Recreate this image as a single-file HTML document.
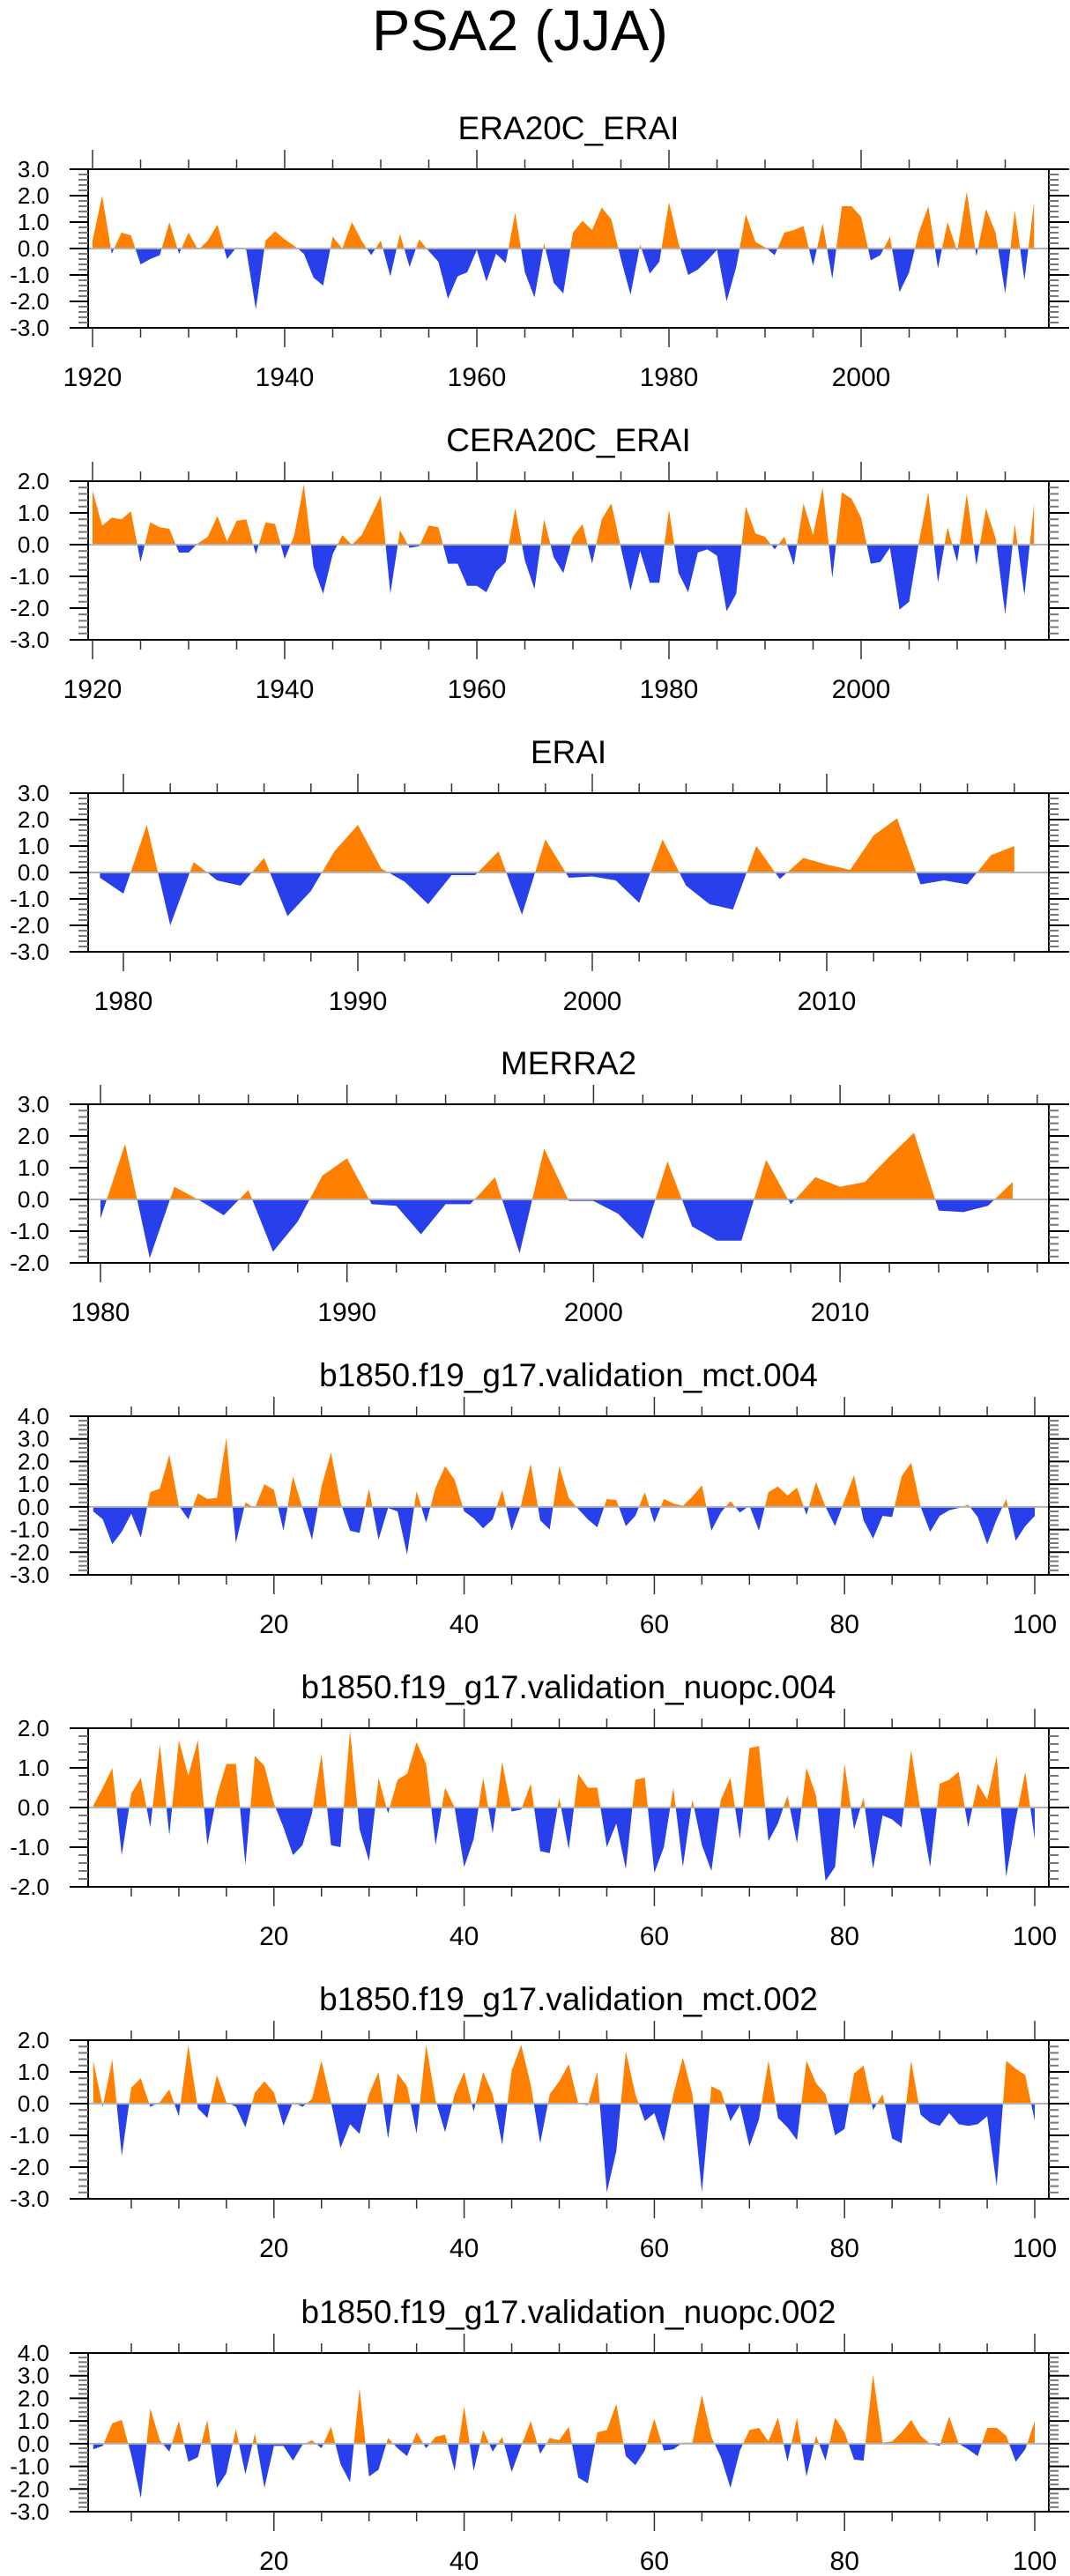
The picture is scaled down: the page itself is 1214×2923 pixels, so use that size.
<!DOCTYPE html>
<html><head><meta charset="utf-8"><style>
html,body{margin:0;padding:0;background:#fff}
svg{display:block}
text{font-family:"Liberation Sans",sans-serif;fill:#000}
</style></head><body>
<svg id="fig" width="1214" height="2923" viewBox="0 0 1214 2923" xmlns="http://www.w3.org/2000/svg">
<text x="590" y="57" font-size="65" text-anchor="middle">PSA2 (JJA)</text>
</svg>
<script>
const era20cValues=[0.3,2.0,-0.2,0.6,0.5,-0.6,-0.4,-0.25,1.0,-0.2,0.6,-0.05,0.3,0.9,-0.4,0.05,-0.05,-2.3,0.3,0.65,0.35,0.1,-0.2,-1.1,-1.4,0.45,0.0,1.0,0.3,-0.25,0.3,-1.05,0.55,-0.7,0.35,-0.1,-0.5,-1.9,-1.05,-0.9,-0.05,-1.25,-0.2,-0.55,1.35,-0.9,-1.85,0.2,-1.3,-1.7,0.6,1.05,0.7,1.55,1.1,-0.4,-1.75,0.15,-0.95,-0.5,1.75,0.2,-1.0,-0.8,-0.45,-0.05,-2.0,-0.7,1.3,0.25,0.05,-0.25,0.6,0.7,0.85,-0.65,0.95,-1.15,1.6,1.6,1.2,-0.45,-0.25,0.45,-1.65,-0.9,0.6,1.6,-0.75,1.0,-0.1,2.15,-0.3,1.5,0.6,-1.7,1.45,-1.2,1.75];
const cera20cValues=[1.7,0.6,0.85,0.8,1.05,-0.55,0.7,0.55,0.5,-0.25,-0.25,0.05,0.25,0.9,0.1,0.75,0.8,-0.3,0.7,0.65,-0.45,0.3,1.9,-0.7,-1.55,-0.3,0.3,0.0,0.3,0.9,1.55,-1.55,0.45,-0.1,-0.05,0.6,0.55,-0.6,-0.6,-1.3,-1.3,-1.5,-0.85,-0.55,1.15,-0.5,-1.4,0.8,-0.4,-0.9,0.25,0.65,-0.6,0.8,1.3,-0.1,-1.45,-0.2,-1.2,-1.2,1.1,-0.9,-1.5,-0.25,-0.15,-0.35,-2.1,-1.55,1.2,0.35,0.25,-0.15,0.25,-0.65,1.3,0.3,1.8,-1.05,1.65,1.45,0.85,-0.6,-0.55,-0.1,-2.05,-1.8,0.05,1.65,-1.2,0.55,-0.55,1.6,-0.65,1.15,0.2,-2.2,0.65,-1.6,1.3];
const eraiValues=[-0.2,-0.8,1.8,-2.0,0.4,-0.3,-0.5,0.55,-1.65,-0.7,0.8,1.8,0.15,-0.35,-1.2,-0.1,-0.1,0.8,-1.6,1.25,-0.2,-0.15,-0.3,-1.15,1.25,-0.5,-1.2,-1.4,1.0,-0.25,0.55,0.3,0.1,1.4,2.05,-0.45,-0.3,-0.45,0.65,1.0];
const merra2Values=[-0.6,1.75,-1.85,0.4,-0.02,-0.5,0.3,-1.65,-0.7,0.75,1.3,-0.15,-0.2,-1.1,-0.15,-0.15,0.7,-1.7,1.6,-0.05,-0.05,-0.45,-1.25,1.2,-0.85,-1.3,-1.3,1.25,-0.15,0.7,0.4,0.55,1.35,2.1,-0.35,-0.4,-0.2,0.55];
const mct004Values=[-0.2,-0.55,-1.65,-1.1,-0.3,-1.35,0.65,0.8,2.3,0.05,-0.55,0.6,0.35,0.4,3.05,-1.6,0.2,-0.05,1.0,0.75,-1.05,1.35,-0.05,-1.45,0.9,2.4,0.2,-1.05,-1.15,0.8,-1.45,-0.05,-0.2,-2.1,0.7,-0.7,0.85,1.8,1.2,-0.2,-0.5,-0.95,-0.55,0.75,-1.05,0.1,1.9,-0.6,-1.0,1.8,0.4,-0.1,-0.55,-0.9,0.35,0.3,-0.85,-0.4,0.65,-0.7,0.35,0.15,0.05,0.45,0.95,-1.05,-0.25,0.25,-0.25,0.05,-1.05,0.65,0.9,0.5,0.85,-0.35,1.1,0.0,-0.85,0.3,1.4,-0.6,-1.4,-0.4,-0.45,1.35,1.95,0.0,-1.1,-0.4,-0.15,-0.05,0.1,-0.45,-1.65,-0.55,0.35,-1.5,-0.85,-0.4];
const nuopc004Values=[0.05,0.5,1.0,-1.2,0.35,0.75,-0.5,1.6,-0.7,1.7,0.8,1.7,-0.95,0.3,1.1,1.1,-1.45,1.3,1.05,0.1,-0.5,-1.2,-0.95,-0.15,1.35,-0.95,-1.0,1.95,-0.55,-1.35,0.75,-0.15,0.7,0.85,1.65,1.1,-0.95,0.5,0.0,-1.5,-0.8,0.75,-0.65,1.15,-0.1,-0.05,0.6,-1.1,-1.15,0.25,-1.05,0.85,0.5,0.5,-1.0,-0.4,-1.55,0.7,0.75,-1.65,-1.0,0.5,-1.5,0.2,-0.95,-1.6,0.2,0.75,-0.8,1.5,1.55,-0.85,-0.4,0.3,-0.9,1.0,0.3,-1.85,-1.5,1.1,-0.55,0.25,-1.55,-0.2,-0.3,-0.5,1.45,-0.1,-1.5,0.6,0.7,0.9,-0.5,0.6,0.2,1.3,-1.75,-0.3,0.9,-0.8];
const mct002Values=[1.35,-0.1,1.4,-1.65,0.5,0.8,-0.1,0.05,0.45,-0.4,1.85,-0.15,-0.45,0.9,0.05,-0.1,-0.75,0.35,0.7,0.35,-0.7,0.05,-0.1,0.15,1.35,0.05,-1.4,-0.65,-0.95,0.3,1.0,-1.1,0.95,0.55,-0.95,1.85,0.1,-0.9,0.3,1.0,-0.25,1.0,0.3,-1.3,1.05,1.85,0.6,-1.25,0.3,0.7,1.25,0.0,-0.05,1.0,-2.8,-1.5,1.65,0.3,-0.55,-0.3,-1.2,0.3,1.45,0.3,-2.8,0.55,0.4,-0.55,-0.05,-1.35,-0.5,1.35,-0.45,-0.75,-1.15,1.35,0.65,0.3,-1.0,-0.8,0.95,1.2,-0.2,0.3,-1.1,-1.25,1.35,-0.35,-0.6,-0.7,-0.3,-0.65,-0.7,-0.65,-0.4,-2.6,1.35,1.1,0.9,-0.55];
const nuopc002Values=[-0.25,-0.1,0.9,1.05,-0.5,-2.4,1.55,0.15,-0.35,1.0,-0.8,-0.6,1.05,-1.95,-1.3,0.65,-1.35,0.45,-1.95,-0.1,-0.1,-0.75,-0.05,0.15,-0.2,0.75,-0.9,-1.7,2.45,-1.45,-1.15,0.25,-0.2,-0.55,0.5,-0.2,0.3,0.4,-1.2,1.65,-1.2,0.6,-0.35,0.3,-1.25,-0.1,1.0,-0.45,0.25,0.15,0.75,-1.5,-1.75,0.5,0.6,1.75,-0.55,-0.95,-0.3,1.1,-0.3,-0.25,0.05,0.05,2.15,0.3,-0.6,-1.95,-0.3,0.6,0.7,0.1,1.15,-0.8,1.15,-1.45,0.35,-0.75,1.15,0.5,-0.7,-0.75,3.05,0.05,0.1,0.5,1.05,0.35,0.0,-0.1,1.2,0.0,-0.25,-0.55,0.7,0.7,0.35,-0.8,-0.25,1.0];
const panelTitles=["ERA20C_ERAI","CERA20C_ERAI","ERAI","MERRA2","b1850.f19_g17.validation_mct.004","b1850.f19_g17.validation_nuopc.004","b1850.f19_g17.validation_mct.002","b1850.f19_g17.validation_nuopc.002"];
const xStarts=[1920,1920,1979,1980,1,1,1,1];
const yMaxes=[3,2,3,3,4,2,2,4];
const yMins=[-3,-3,-3,-2,-3,-2,-3,-3];
const xMajorLabels=[[1920,1940,1960,1980,2000],[1920,1940,1960,1980,2000],[1980,1990,2000,2010],[1980,1990,2000,2010],[20,40,60,80,100],[20,40,60,80,100],[20,40,60,80,100],[20,40,60,80,100]];
const seriesList=[era20cValues,cera20cValues,eraiValues,merra2Values,mct004Values,nuopc004Values,mct002Values,nuopc002Values];

const NS="http://www.w3.org/2000/svg";
const svg=document.getElementById('fig');
const tops=[192,546,900,1253,1607,1961,2315,2670];
const scales=[{a:1920,p:105,d:10.9,m:5},{a:1920,p:105,d:10.9,m:5},{a:1980,p:140,d:26.6,m:2},{a:1980,p:114,d:27.97,m:2},{a:1,p:105.8,d:10.79,m:5},{a:1,p:105.8,d:10.79,m:5},{a:1,p:105.8,d:10.79,m:5},{a:1,p:105.8,d:10.79,m:5}];
const L=100,R=1190,H=180;
function mk(tag,attrs,parent){const e=document.createElementNS(NS,tag);for(const k in attrs)e.setAttribute(k,attrs[k]);(parent||svg).appendChild(e);return e;}

seriesList.forEach((vals,pi)=>{
  const T=tops[pi],B=T+H,ymax=yMaxes[pi],ymin=yMins[pi],sc=scales[pi];
  const xs=v=>sc.p+(v-sc.a)*sc.d;
  const ys=v=>T+(ymax-v)/(ymax-ymin)*H;
  const g=mk('g',{});
  
  
  const t=mk('text',{x:645,y:T-34,'font-size':37,'text-anchor':'middle'},g);
  t.textContent=panelTitles[pi];
  
  
  // build points with zero crossings
  const pts=[];
  vals.forEach((v,i)=>{
    const x=xStarts[pi]+i;
    if(i>0){const pv=vals[i-1];if(pv*v<0){const f=pv/(pv-v);pts.push([x-1+f,0]);}}
    pts.push([x,v]);
  });
  const y0=ys(0);
  const first=pts[0][0],last=pts[pts.length-1][0];
  let dp='M'+xs(first)+','+y0,dn='M'+xs(first)+','+y0;
  pts.forEach(p=>{dp+=' L'+xs(p[0]).toFixed(2)+','+ys(Math.max(p[1],0)).toFixed(2);dn+=' L'+xs(p[0]).toFixed(2)+','+ys(Math.min(p[1],0)).toFixed(2);});
  dp+=' L'+xs(last)+','+y0+' Z';dn+=' L'+xs(last)+','+y0+' Z';
  const pa=mk('path',{d:dp,fill:'#ff8000'},g);
  
  
  const na=mk('path',{d:dn,fill:'#2840ec'},g);
  
  
  const zl=mk('line',{x1:L,x2:R,y1:y0,y2:y0,stroke:'#b4b4b4','stroke-width':2},g);
  
  
  const box=mk('rect',{x:L,y:T,width:R-L,height:H,fill:'none',stroke:'#000','stroke-width':2},g);
  
  
  // y ticks
  for(let k=Math.round(ymin*5);k<=Math.round(ymax*5);k++){
    const v=k/5,y=ys(v);
    if(k%5===0){
      mk('line',{x1:L-21,x2:L,y1:y,y2:y,stroke:'#000','stroke-width':2},g);
      mk('line',{x1:R,x2:R+23,y1:y,y2:y,stroke:'#000','stroke-width':2},g);
      const lb=mk('text',{x:56,y:y+9,'font-size':26,'text-anchor':'end'},g);
      lb.textContent=v.toFixed(1);
      
      
    } else {
      mk('line',{x1:L-11,x2:L,y1:y,y2:y,stroke:'#777','stroke-width':2},g);
      mk('line',{x1:R,x2:R+11,y1:y,y2:y,stroke:'#777','stroke-width':2},g);
    }
  }
  // x ticks
  const majors=xMajorLabels[pi];
  const lo=Math.ceil((sc.a+(L-sc.p)/sc.d)/sc.m)*sc.m;
  for(let v=lo;xs(v)<=R;v+=sc.m){
    const x=xs(v),isMaj=majors.includes(v),len=isMaj?22:11;
    mk('line',{x1:x,x2:x,y1:T-len,y2:T,stroke:'#333','stroke-width':1.5},g);
    mk('line',{x1:x,x2:x,y1:B,y2:B+len,stroke:'#333','stroke-width':1.5},g);
  }
  majors.forEach(v=>{
    const lb=mk('text',{x:xs(v),y:B+66,'font-size':30,'text-anchor':'middle'},g);
    lb.textContent=String(v);
    
    
  });
});
</script>
</body></html>
